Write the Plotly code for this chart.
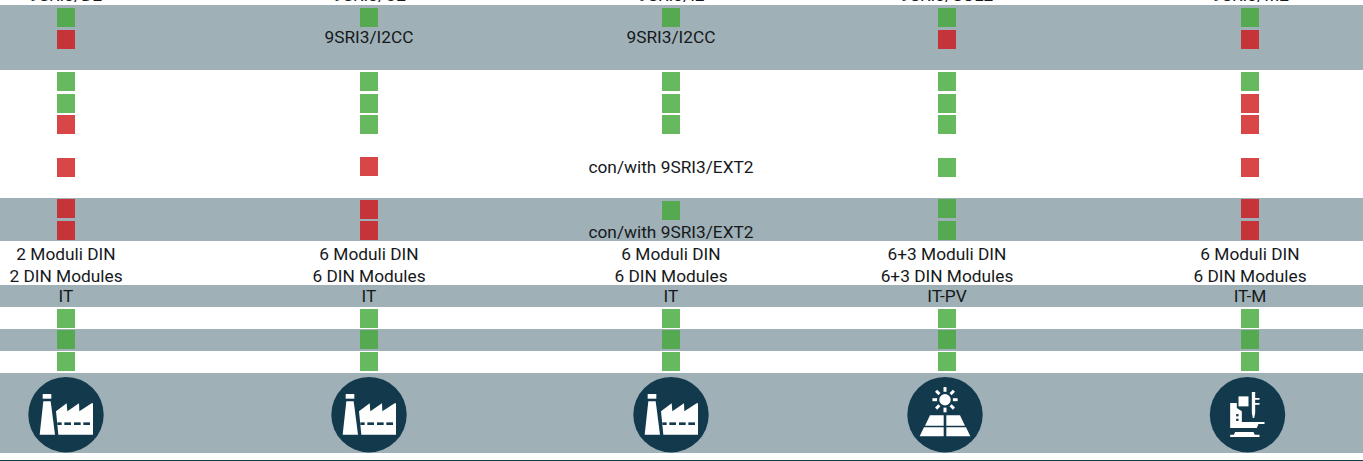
import math
import plotly.graph_objects as go

# ---- data ----
column_x = [66, 369, 671, 947, 1250]
icon_x = [66, 369, 671, 945, 1247.5]
models = ["9SRI3/D2", "9SRI3/U2", "9SRI3/I2", "9SRI3/SOL2", "9SRI3/M2"]
sizes_it = ["2 Moduli DIN", "6 Moduli DIN", "6 Moduli DIN", "6+3 Moduli DIN", "6 Moduli DIN"]
sizes_en = ["2 DIN Modules", "6 DIN Modules", "6 DIN Modules", "6+3 DIN Modules", "6 DIN Modules"]
systems = ["IT", "IT", "IT", "IT-PV", "IT-M"]
icons = ["factory", "factory", "factory", "solar", "machine"]

# feature status per column: 1 = yes, 0 = no, None = replaced by a text note
col1_status = [1, 0, 1, 1, 0, 0, 0, 0, 1, 1, 1]
col2_status = [1, None, 1, 1, 1, 0, 0, 0, 1, 1, 1]
col3_status = [1, None, 1, 1, 1, None, 1, None, 1, 1, 1]
col4_status = [1, 0, 1, 1, 1, 1, 1, 1, 1, 1, 1]
col5_status = [1, 0, 1, 0, 0, 0, 0, 0, 1, 1, 1]
status = [col1_status, col2_status, col3_status, col4_status, col5_status]

row_top = [8, 30, 72, 94, 115, 158, 199, 221, 309, 330, 352]
row_on_band = [True, True, False, False, False, False, True, True, False, True, False]
# small per-cell misalignments visible in the table: (column, row) -> top
cell_top = {(1, 5): 157, (1, 6): 200, (2, 6): 201}

notes = [("9SRI3/I2CC", 1, 39), ("9SRI3/I2CC", 2, 39),
         ("con/with 9SRI3/EXT2", 2, 169), ("con/with 9SRI3/EXT2", 2, 234)]

bands = [(5, 70), (198, 241), (285, 307), (329, 351), (373, 453)]

# ---- style ----
BAND = "#9fb0b7"
DARK = "#12394c"
GREEN, GREEN_BAND = "#66b95f", "#55a950"
RED, RED_BAND = "#d94648", "#c43439"
TEXT = "#16191b"
FONT = dict(family="Roboto, sans-serif", size=17.3, color=TEXT)
CELL_W, CELL_H = 18, 19
WIDTH, HEIGHT = 1363, 461

shapes = [dict(type="rect", layer="below", x0=0, x1=WIDTH, y0=a, y1=b,
               fillcolor=BAND, line_width=0) for a, b in bands]
shapes.append(dict(type="rect", layer="below", x0=0, x1=WIDTH, y0=460, y1=461,
                   fillcolor=DARK, line_width=0))


def poly(cx, cy, pts):
    return "M" + " L".join(f"{cx + x / 3:.2f},{cy + y / 3:.2f}" for x, y in pts) + " Z"


def filled(path, color="white"):
    return dict(type="path", path=path, fillcolor=color, line_width=0, layer="above")


def factory(cx, cy):
    out = [
        poly(cx, cy, [(-70, -62), (-44, -62), (-44, -48), (-70, -48)]),
        poly(cx, cy, [(-68, -40), (-46, -40), (-33, 60), (-79, 60)]),
        poly(cx, cy, [(-30, -10), (2, -34), (4, -10), (39, -34), (40, -10), (77, -34),
                      (81, -34), (81, 60), (-23, 60)]),
    ]
    res = [filled(p) for p in out]
    for a, b in [(-26, -13), (-5, 15), (24, 44), (52, 72)]:
        res.append(filled(poly(cx, cy, [(a, 23), (b, 23), (b, 31), (a, 31)]), DARK))
    return res


def solar(cx, cy):
    res = []
    sx, sy = cx, cy - 15
    r = 5.7
    res.append(dict(type="circle", layer="above", x0=sx - r, x1=sx + r, y0=sy - r, y1=sy + r,
                    fillcolor="white", line_width=0))
    for k in range(8):
        a = k * math.pi / 4
        res.append(dict(type="line", layer="above", x0=sx + 7.9 * math.cos(a), y0=sy + 7.9 * math.sin(a),
                        x1=sx + 12.6 * math.cos(a), y1=sy + 12.6 * math.sin(a),
                        line=dict(color="white", width=3)))
    for m in (1, -1):
        res.append(filled(poly(cx, cy, [(-4 * m, 2), (-45 * m, 2), (-60 * m, 33), (-4 * m, 33)])))
        res.append(filled(poly(cx, cy, [(-4 * m, 38), (-63 * m, 38), (-76 * m, 65), (-4 * m, 65)])))
    return res


def machine(cx, cy):
    res = [
        filled(poly(cx, cy, [(-52, -35), (-32, -35), (-32, -20), (-17, -10), (-17, 22), (51, 22),
                             (51, 28), (33, 28), (28, 40), (-52, 40)])),
        filled(poly(cx, cy, [(-27, -55), (3, -55), (3, -25), (-27, -25)])),
        filled(poly(cx, cy, [(13, -68), (23, -68), (23, -50), (36, -50), (36, -45), (23, -45),
                             (23, -35), (36, -35), (36, -30), (23, -30), (23, -5), (20, 10),
                             (16, 10), (13, -5)])),
        filled(poly(cx, cy, [(-37, 52), (18, 52), (22, 60), (36, 60), (36, 67), (-52, 67), (-52, 60), (-41, 60)])),
        filled(poly(cx, cy, [(-34, -2), (-27, -2), (-27, 5), (-34, 5)]), DARK),
        filled(poly(cx, cy, [(-34, 12), (-27, 12), (-27, 19), (-34, 19)]), DARK),
    ]
    return res


ICONS = {"factory": factory, "solar": solar, "machine": machine}
ICON_Y, ICON_R = 414.7, 37.7
for x, name in zip(icon_x, icons):
    shapes.append(dict(type="circle", layer="above", x0=x - ICON_R, x1=x + ICON_R,
                       y0=ICON_Y - ICON_R, y1=ICON_Y + ICON_R, fillcolor=DARK, line_width=0))
    shapes.extend(ICONS[name](x, ICON_Y))

bar_x, bar_base, bar_color = [], [], []
for c, col in enumerate(status):
    for r, val in enumerate(col):
        if val is None:
            continue
        bar_x.append(column_x[c])
        bar_base.append(cell_top.get((c, r), row_top[r]))
        if val:
            bar_color.append(GREEN_BAND if row_on_band[r] else GREEN)
        else:
            bar_color.append(RED_BAND if row_on_band[r] else RED)

fig = go.Figure()
fig.add_trace(go.Bar(x=bar_x, y=[CELL_H] * len(bar_x), base=bar_base, width=CELL_W,
                     marker=dict(color=bar_color, line_width=0), hoverinfo="skip"))

text_x, text_y, text_s = [], [], []
for rows, y in [(sizes_it, 256), (sizes_en, 278), (systems, 298)]:
    text_x += column_x
    text_y += [y] * len(column_x)
    text_s += rows
for s, c, y in notes:
    text_x.append(column_x[c])
    text_y.append(y)
    text_s.append(s)
fig.add_trace(go.Scatter(x=text_x, y=text_y, text=text_s, mode="text", textposition="middle center",
                         textfont=FONT, cliponaxis=False, hoverinfo="skip"))

# the model names sit mostly above the top edge of the page, as in the reference
annotations = [dict(x=x, xref="x", y=1 + 4.5 / HEIGHT, yref="paper", text=m, showarrow=False,
                    xanchor="center", yanchor="middle", font=FONT)
               for x, m in zip(column_x, models)]

fig.update_layout(
    width=WIDTH, height=HEIGHT, margin=dict(l=0, r=0, t=0, b=0), autosize=False,
    paper_bgcolor="white", plot_bgcolor="white", showlegend=False, shapes=shapes,
    annotations=annotations,
    xaxis=dict(range=[0, WIDTH], visible=False, fixedrange=True),
    yaxis=dict(range=[HEIGHT, 0], visible=False, fixedrange=True),
)
fig.write_html("out.html", config=dict(displayModeBar=False),
               post_script="document.body.style.margin='0';document.body.style.overflow='hidden';")
